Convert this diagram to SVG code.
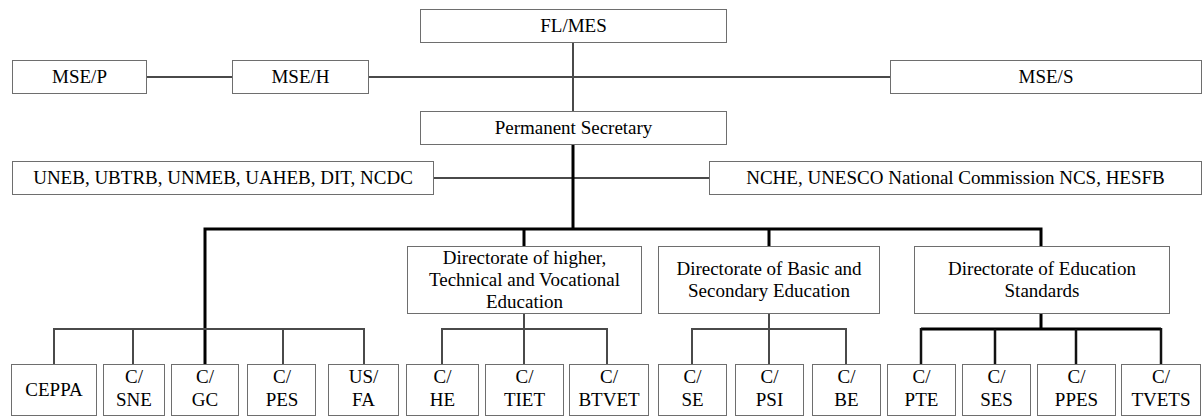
<svg xmlns="http://www.w3.org/2000/svg" width="1203" height="417" viewBox="0 0 1203 417">
  <style>
    .box { fill: #ffffff; stroke: #6e6e6e; stroke-width: 1; }
    .lbl { font-size: 19px; fill: #000; text-anchor: middle; }
    .thin { fill: none; stroke: #4a4a4a; stroke-width: 2; }
    .thick { fill: none; stroke: #000; stroke-width: 3; }
    .mid { fill: none; stroke: #111; stroke-width: 2.5; }
  </style>
  <rect width="1203" height="417" fill="#ffffff"/>

  <!-- connectors -->
  <g id="connectors">
    <!-- ministers row -->
    <path class="thin" d="M147,77 H232 M369,77 H890"/>
    <path class="thin" d="M573,43 V111"/>
    <!-- agencies row -->
    <path class="thin" d="M434,178 H709"/>
    <!-- main trunk and bus -->
    <path class="thick" d="M573,144 V229"/>
    <path class="thick" d="M205,364 V229 H1041 V246"/>
    <path class="thick" d="M524,229 V246 M769,229 V246"/>
    <!-- commissioner group under the bus -->
    <path class="thin" d="M54,364 V329 H364 V364 M133,329 V364 M283,329 V364"/>
    <!-- higher, technical and vocational -->
    <path class="thin" d="M524,313 V329 M442,364 V329 H607 V364 M524,329 V364"/>
    <!-- basic and secondary -->
    <path class="thin" d="M769,313 V364 M692,364 V329 H846 V364"/>
    <!-- education standards -->
    <path class="thick" d="M1041,313 V329 M921,329 H1161"/>
    <path class="mid" d="M921,328 V364 M995,329 V364 M1076,329 V364 M1161,328 V364"/>
  </g>

  <g font-family="Liberation Serif, Times New Roman, Times, serif">
  <g id="fl_mes"><rect class="box" x="420.5" y="9.5" width="306" height="33"/><text class="lbl" x="573.5" y="32">FL/MES</text></g>
  <g id="mse_p"><rect class="box" x="12.5" y="60.5" width="134" height="33"/><text class="lbl" x="79.5" y="83">MSE/P</text></g>
  <g id="mse_h"><rect class="box" x="232.5" y="60.5" width="136" height="33"/><text class="lbl" x="300.5" y="83">MSE/H</text></g>
  <g id="mse_s"><rect class="box" x="890.5" y="60.5" width="311" height="33"/><text class="lbl" x="1046" y="83">MSE/S</text></g>
  <g id="permanent_secretary"><rect class="box" x="420.5" y="111.5" width="306" height="33"/><text class="lbl" x="573.5" y="134">Permanent Secretary</text></g>
  <g id="exam_bodies"><rect class="box" x="12.5" y="161.5" width="421" height="33"/><text class="lbl" x="223" y="184">UNEB, UBTRB, UNMEB, UAHEB, DIT, NCDC</text></g>
  <g id="councils"><rect class="box" x="709.5" y="161.5" width="492" height="33"/><text class="lbl" x="955.5" y="184">NCHE, UNESCO National Commission NCS, HESFB</text></g>

  <g id="dir_htve"><rect class="box" x="407.5" y="246.5" width="234" height="67"/>
    <text class="lbl" x="524.5" y="264">Directorate of higher,</text>
    <text class="lbl" x="524.5" y="286">Technical and Vocational</text>
    <text class="lbl" x="524.5" y="308">Education</text></g>
  <g id="dir_bse"><rect class="box" x="658.5" y="246.5" width="221" height="67"/>
    <text class="lbl" x="769" y="275">Directorate of Basic and</text>
    <text class="lbl" x="769" y="297">Secondary Education</text></g>
  <g id="dir_es"><rect class="box" x="914.5" y="246.5" width="255" height="67"/>
    <text class="lbl" x="1042" y="275">Directorate of Education</text>
    <text class="lbl" x="1042" y="297">Standards</text></g>

  <!-- bottom row of units -->
  <g id="ceppa"><rect class="box" x="11.5" y="364.5" width="85" height="51"/><text class="lbl" x="54" y="396">CEPPA</text></g>
  <g id="c_sne"><rect class="box" x="103.5" y="364.5" width="61" height="51"/><text class="lbl" x="134" y="383">C/</text><text class="lbl" x="134" y="406">SNE</text></g>
  <g id="c_gc"><rect class="box" x="171.5" y="364.5" width="67" height="51"/><text class="lbl" x="205" y="383">C/</text><text class="lbl" x="205" y="406">GC</text></g>
  <g id="c_pes"><rect class="box" x="247.5" y="364.5" width="68" height="51"/><text class="lbl" x="282" y="383">C/</text><text class="lbl" x="282" y="406">PES</text></g>
  <g id="us_fa"><rect class="box" x="328.5" y="364.5" width="70" height="51"/><text class="lbl" x="363.5" y="383">US/</text><text class="lbl" x="363.5" y="406">FA</text></g>
  <g id="c_he"><rect class="box" x="406.5" y="364.5" width="72" height="51"/><text class="lbl" x="442.5" y="383">C/</text><text class="lbl" x="442.5" y="406">HE</text></g>
  <g id="c_tiet"><rect class="box" x="485.5" y="364.5" width="78" height="51"/><text class="lbl" x="524.5" y="383">C/</text><text class="lbl" x="524.5" y="406">TIET</text></g>
  <g id="c_btvet"><rect class="box" x="569.5" y="364.5" width="79" height="51"/><text class="lbl" x="609" y="383">C/</text><text class="lbl" x="609" y="406">BTVET</text></g>
  <g id="c_se"><rect class="box" x="658.5" y="364.5" width="68" height="51"/><text class="lbl" x="692.5" y="383">C/</text><text class="lbl" x="692.5" y="406">SE</text></g>
  <g id="c_psi"><rect class="box" x="735.5" y="364.5" width="68" height="51"/><text class="lbl" x="769.5" y="383">C/</text><text class="lbl" x="769.5" y="406">PSI</text></g>
  <g id="c_be"><rect class="box" x="812.5" y="364.5" width="68" height="51"/><text class="lbl" x="846.5" y="383">C/</text><text class="lbl" x="846.5" y="406">BE</text></g>
  <g id="c_pte"><rect class="box" x="887.5" y="364.5" width="68" height="51"/><text class="lbl" x="921.5" y="383">C/</text><text class="lbl" x="921.5" y="406">PTE</text></g>
  <g id="c_ses"><rect class="box" x="962.5" y="364.5" width="68" height="51"/><text class="lbl" x="996.5" y="383">C/</text><text class="lbl" x="996.5" y="406">SES</text></g>
  <g id="c_ppes"><rect class="box" x="1037.5" y="364.5" width="78" height="51"/><text class="lbl" x="1076.5" y="383">C/</text><text class="lbl" x="1076.5" y="406">PPES</text></g>
  <g id="c_tvets"><rect class="box" x="1121.5" y="364.5" width="79" height="51"/><text class="lbl" x="1161" y="383">C/</text><text class="lbl" x="1161" y="406">TVETS</text></g>
  </g>
</svg>
